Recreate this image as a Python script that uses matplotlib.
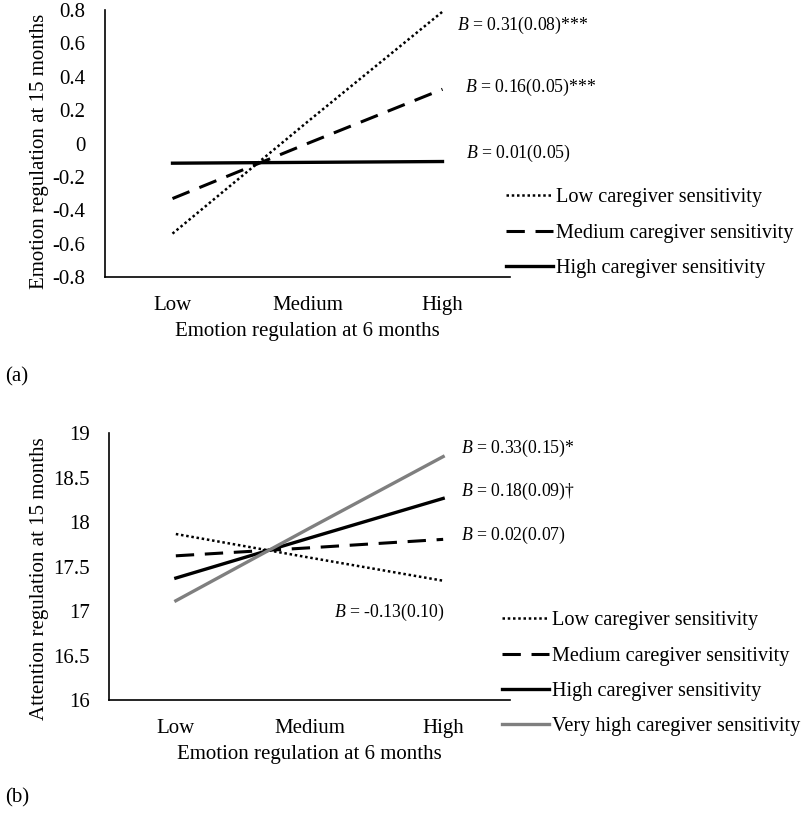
import matplotlib
matplotlib.use("Agg")
import matplotlib.pyplot as plt

plt.rcParams['font.family'] = ['Liberation Serif', 'DejaVu Serif']
plt.rcParams['mathtext.fontset'] = 'custom'
plt.rcParams['mathtext.it'] = 'Liberation Serif:italic'
plt.rcParams['mathtext.rm'] = 'Liberation Serif'

# x categories
levels = ['Low', 'Medium', 'High']

# panel (a): emotion regulation at 15 months
a_low = [-0.54, 0.13, 0.79]
a_med = [-0.33, 0.00, 0.325]
a_high = [-0.118, -0.113, -0.108]
a_labels = ['Low caregiver sensitivity', 'Medium caregiver sensitivity',
            'High caregiver sensitivity']
a_notes = ['$B$ = 0.31(0.08)***', '$B$ = 0.16(0.05)***', '$B$ = 0.01(0.05)']
a_yticks = [-0.8, -0.6, -0.4, -0.2, 0, 0.2, 0.4, 0.6, 0.8]

# panel (b): attention regulation at 15 months
b_low = [17.865, 17.60, 17.34]
b_med = [17.62, 17.71, 17.805]
b_high = [17.37, 17.82, 18.265]
b_vhigh = [17.115, 17.93, 18.735]
b_labels = ['Low caregiver sensitivity', 'Medium caregiver sensitivity',
            'High caregiver sensitivity', 'Very high caregiver sensitivity']
b_notes = ['$B$ = 0.33(0.15)*', '$B$ = 0.18(0.09)\u2020', '$B$ = 0.02(0.07)',
           '$B$ = -0.13(0.10)']
b_yticks = [16, 16.5, 17, 17.5, 18, 18.5, 19]

W, H = 807, 813
fig = plt.figure(figsize=(W / 100, H / 100), dpi=100)

FS = 15
LS = 14.6
NS = 12.8


def style(ax, yticks, ylabel, ylab_x, ylab_y):
    x = range(len(levels))
    ax.set_xlim(-0.5, 2.5)
    ax.set_xticks(list(x))
    ax.set_xticklabels(levels, fontsize=FS)
    ax.set_yticks(yticks)
    ax.set_yticklabels([('%g' % v) for v in yticks], fontsize=FS)
    ax.set_ylim(yticks[0], yticks[-1])
    ax.tick_params(length=0)
    ax.tick_params(axis='y', pad=14)
    ax.tick_params(axis='x', pad=14)
    for s in ['top', 'right']:
        ax.spines[s].set_visible(False)
    for s in ['left', 'bottom']:
        ax.spines[s].set_linewidth(1.2)
    ax.set_xlabel('Emotion regulation at 6 months', fontsize=FS)
    ax.xaxis.set_label_coords(0.5, -0.17)
    ax.set_ylabel(ylabel, fontsize=FS)
    ax.yaxis.set_label_coords(ylab_x, ylab_y)


x = list(range(len(levels)))

# ---- panel (a)
ax1 = fig.add_axes([105 / W, 1 - 277 / H, 405 / W, 267 / H])
ax1.plot(x, a_low, color='black', lw=1.8, dashes=(1, 1.1), label=a_labels[0])
ax1.plot(x, a_med, color='black', lw=2.2, dashes=(6, 3.5), label=a_labels[1])
ax1.plot(x, a_high, color='black', lw=2.4, label=a_labels[2])
style(ax1, a_yticks, 'Emotion regulation at 15 months', -0.138, 0.47)
note_pos_a = [(2.11, 0.71), (2.17, 0.333), (2.175, -0.062)]
for t, (tx, ty) in zip(a_notes, note_pos_a):
    ax1.text(tx, ty, t, fontsize=NS, va='center', ha='left', clip_on=False)
ax1.legend(loc='upper left', bbox_to_anchor=(506 / W, 1 - 188 / H),
           bbox_transform=fig.transFigure, frameon=False, fontsize=LS,
           handlelength=2.3, handletextpad=0.15, labelspacing=0.8,
           borderpad=0, borderaxespad=0)
fig.text(5 / W, 1 - 377 / H, '(a)', fontsize=FS, va='center', ha='left')

# ---- panel (b)
ax2 = fig.add_axes([109 / W, 1 - 700 / H, 401 / W, 267 / H])
ax2.plot(x, b_low, color='black', lw=1.8, dashes=(1, 1.1), label=b_labels[0])
ax2.plot(x, b_med, color='black', lw=2.2, dashes=(6, 3.5), label=b_labels[1])
ax2.plot(x, b_high, color='black', lw=2.4, label=b_labels[2])
ax2.plot(x, b_vhigh, color='#7f7f7f', lw=2.4, label=b_labels[3])
style(ax2, b_yticks, 'Attention regulation at 15 months', -0.15, 0.455)
note_pos_b = [(2.13, 18.83), (2.13, 18.34), (2.13, 17.85), (1.18, 16.98)]
for t, (tx, ty) in zip(b_notes, note_pos_b):
    ax2.text(tx, ty, t, fontsize=NS, va='center', ha='left', clip_on=False)
ax2.legend(loc='upper left', bbox_to_anchor=(502 / W, 1 - 611 / H),
           bbox_transform=fig.transFigure, frameon=False, fontsize=LS,
           handlelength=2.3, handletextpad=0.15, labelspacing=0.8,
           borderpad=0, borderaxespad=0)
fig.text(5 / W, 1 - 798 / H, '(b)', fontsize=FS, va='center', ha='left')

fig.savefig('out.png', dpi=100)
